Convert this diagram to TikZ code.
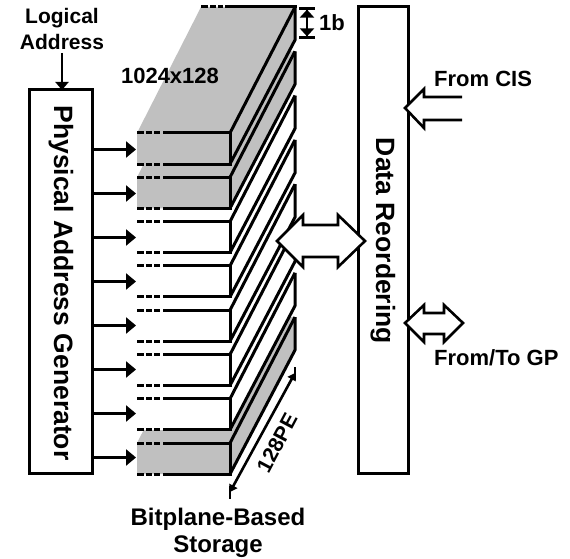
\documentclass[tikz,border=0pt]{standalone}
\usepackage{fontspec}
\setmainfont{Liberation Sans}
\usetikzlibrary{arrows.meta,calc}
\definecolor{planegray}{HTML}{C0C0C0}
\tikzset{
  box/.style={draw=black,line width=3pt,fill=white,inner sep=0pt,outer sep=0pt,anchor=north west},
  lbl/.style={font=\bfseries\fontsize{#1}{#1}\selectfont,inner sep=0pt,text=black},
  lbl/.default=20,
  edge/.style={draw=black,line width=3pt,line cap=butt,line join=miter},
  addr/.style={-{Triangle[length=10pt,width=16pt]},line width=2.6pt,draw=black,shorten >=0pt},
  blockarrow/.style={draw=black,line width=2.6pt,fill=white,line join=miter},
  dim/.style={draw=black,line width=2.6pt}
}
\begin{document}
\begin{tikzpicture}[x=1pt,y=-1pt]
\useasboundingbox (0,0) rectangle (570,559);
% bitplanes, lowest first so that each upper plane hides the one below
\foreach \k/\col in {7/planegray,6/white,5/white,4/white,3/white,2/white,1/planegray,0/planegray}{
  \pgfmathsetmacro{\t}{133+44.3*\k}
  \pgfmathsetmacro{\b}{\t+31}
  \pgfmathsetmacro{\bt}{7+44.3*\k}
  \pgfmathsetmacro{\bb}{\bt+33}
  \fill[\col] (137,\t) -- (201,\bt) -- (295,\bt) -- (295,\bb) -- (230,\b) -- (137,\b) -- cycle;
  \draw[edge] (163,\t) -- (230,\t) -- (230,\b) -- (163,\b);
  \draw[edge] (230,\t) -- (295,\bt);
  \draw[edge] (230,\b) -- (295,\bb) -- (295,\bt);
  \foreach \xa/\xb in {137/144,146/152,154/160}{
    \draw[edge] (\xa,\t) -- (\xb,\t);
    \draw[edge] (\xa,\b) -- (\xb,\b);
  }
}
\draw[edge] (225,7) -- (296.5,7);
\foreach \xa/\xb in {201/208,210/216,218/223}{ \draw[edge] (\xa,7) -- (\xb,7); }
% boxes
\node[box,minimum width=63pt,minimum height=383pt] (pag) at (29,90) {};
\node[box,minimum width=50pt,minimum height=466pt] (dr) at (358,7) {};
\node[lbl=26.5,rotate=-90] (pagt) at (61,283) {Physical Address Generator};
\node[lbl=26.5,rotate=-90] (drt) at (383,241) {Data Reordering};
% address arrows
\foreach \k in {0,...,7}{
  \pgfmathsetmacro{\yy}{149.5+44*\k}
  \coordinate (a\k) at (92,\yy);
  \coordinate (b\k) at (136,\yy);
  \draw[addr] (a\k) -- (b\k);
}
% logical address
\node[lbl=21,align=center] (la) at (62,29) {Logical\\[5pt]Address};
\coordinate (lat) at (pag.north-|la);
\draw[addr,-{Triangle[length=8pt,width=13pt]},line width=2.4pt] ($(la.south)+(0,3)$) -- (lat);
% block arrows
\draw[blockarrow] (277,241) -- (303,215) -- (303,225) -- (338,225) -- (338,215) -- (365,241) -- (338,267) -- (338,257) -- (303,257) -- (303,267) -- cycle;
\draw[blockarrow] (405,323) -- (424,305) -- (424,313) -- (444,313) -- (444,305) -- (463,323) -- (444,342) -- (444,334) -- (424,334) -- (424,342) -- cycle;
\fill[white] (405,108) -- (424,89) -- (424,97) -- (462,97) -- (462,120) -- (424,120) -- (424,128) -- cycle;
\draw[blockarrow,fill=none] (462,97) -- (424,97) -- (424,89) -- (405,108) -- (424,128) -- (424,120) -- (462,120);
% dimensions
\coordinate (ot) at (307,7); \coordinate (ob) at (307,39);
\draw[dim,{Bar[width=16pt]Triangle[length=8pt,width=14pt]}-{Triangle[length=8pt,width=14pt]Bar[width=16pt]}] (ot) -- (ob);
\coordinate (pa) at (230,492); \coordinate (pb) at (295,373);
\draw[dim] (230,486) -- (230,499);
\draw[dim] (295,367) -- (295,380);
\draw[dim,{Triangle[length=7pt,width=9pt]}-{Triangle[length=7pt,width=9pt]}] (pa) -- (pb);
% labels
\node[lbl=22] (sz) at (170,76) {1024x128};
\node[lbl=22] (oneb) at (332,23) {1b};
\node[lbl=21,rotate=62] (pe) at (277,443) {128PE};
\node[lbl=22,anchor=west] (cis) at (434,79) {From CIS};
\node[lbl=22,anchor=west] (gp) at (434,358) {From/To GP};
\node[lbl=24] (bs) at (218,519) {Bitplane-Based};
\node[lbl=24] (st) at (218,547) {Storage};
\end{tikzpicture}
\end{document}
